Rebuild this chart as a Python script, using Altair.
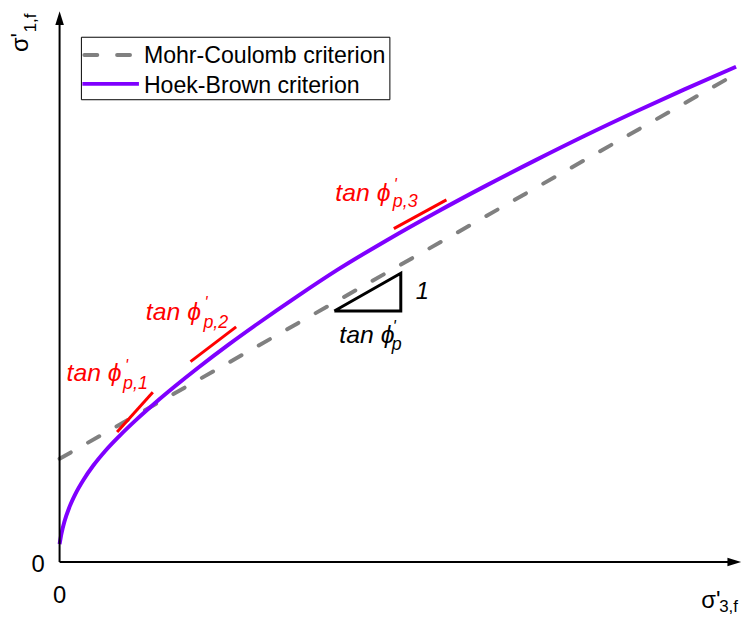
import altair as alt
import pandas as pd

FONT = "Liberation Sans"

# ---------------- data (σ'3,f , σ'1,f in arbitrary stress units) ----------------
hb_s3 = [0, 2, 5, 10, 16, 24, 34, 46, 60, 78, 96, 116, 140, 170, 200, 240, 280,
         330, 380, 430, 480, 530, 580, 630, 682]
hb_s1 = [18, 29, 41, 55.5, 68.7, 82.7, 97.2, 111.9, 126.7, 144.0, 160.0, 176.8, 196.0,
         218.8, 240.4, 268.0, 294.4, 324.4, 352.6, 379.4, 405.1, 429.9, 453.6, 476.4, 499.3]

mc_s3 = [0, 682]
mc_s1 = [104, 492]

# tangent segments (slope tan φ'p,i)
tan_id = ["1", "1", "2", "2", "3", "3"]
tan_s3 = [58, 94, 132, 178, 337, 390]
tan_s1 = [131, 171, 202, 237, 336, 365]

# slope triangle
tri_s3 = [277, 344, 344, 277]
tri_s1 = [253, 291, 253, 253]

legend_labels = ["Mohr-Coulomb criterion", "Hoek-Brown criterion"]

X_MAX = 688
Y_MAX = 556

xs = alt.Scale(domain=[0, X_MAX], nice=False, zero=False)
ys = alt.Scale(domain=[0, Y_MAX], nice=False, zero=False)


def X(f="x"):
    return alt.X(f"{f}:Q", scale=xs, axis=None)


def Y(f="y"):
    return alt.Y(f"{f}:Q", scale=ys, axis=None)


# ---------------- curves ----------------
mc_df = pd.DataFrame({"x": mc_s3, "y": mc_s1})
hb_df = pd.DataFrame({"x": hb_s3, "y": hb_s1})
tan_df = pd.DataFrame({"x": tan_s3, "y": tan_s1, "id": tan_id})
tri_df = pd.DataFrame({"x": tri_s3, "y": tri_s1, "o": list(range(len(tri_s3)))})

mc = alt.Chart(mc_df).mark_line(color="#808080", strokeWidth=4, strokeDash=[13, 20],
                                strokeCap="round").encode(x=X(), y=Y())
hb = alt.Chart(hb_df).mark_line(color="#7F00FF", strokeWidth=4, interpolate="monotone").encode(
    x=X(), y=Y())
tang = alt.Chart(tan_df).mark_line(color="#FF0000", strokeWidth=3).encode(
    x=X(), y=Y(), detail="id:N")
tri = alt.Chart(tri_df).mark_line(color="black", strokeWidth=3, strokeJoin="miter").encode(
    x=X(), y=Y(), order="o:O")

# ---------------- axes with arrows ----------------
ax_df = pd.DataFrame({"x": [0, 0], "x2": [X_MAX - 8, 0], "y": [0, 0], "y2": [0, Y_MAX - 8]})
axes = alt.Chart(ax_df).mark_rule(color="black", strokeWidth=2).encode(
    x=X(), x2="x2:Q", y=Y(), y2="y2:Q")

arrow_up = alt.Chart(pd.DataFrame({"x": [0], "y": [Y_MAX - 9.5]})).mark_point(
    shape="M0,-1L0.5,0.6L-0.5,0.6Z", filled=True, color="black", opacity=1, size=300,
    strokeWidth=0).encode(x=X(), y=Y())
arrow_right = alt.Chart(pd.DataFrame({"x": [X_MAX - 9.5], "y": [0]})).mark_point(
    shape="M1,0L-0.6,-0.5L-0.6,0.5Z", filled=True, color="black", opacity=1, size=300,
    strokeWidth=0).encode(x=X(), y=Y())

# ---------------- legend ----------------
leg_box = alt.Chart(pd.DataFrame({"x": [22], "x2": [333], "y": [466], "y2": [529]})).mark_rect(
    fill="white", stroke="black", strokeWidth=1).encode(x=X(), x2="x2:Q", y=Y(), y2="y2:Q")
leg_mc = alt.Chart(pd.DataFrame({"x": [25, 78], "y": [511, 511]})).mark_line(
    color="#808080", strokeWidth=4, strokeDash=[13, 20], strokeCap="round").encode(x=X(), y=Y())
leg_hb = alt.Chart(pd.DataFrame({"x": [23, 80], "y": [482, 482]})).mark_line(
    color="#7F00FF", strokeWidth=4).encode(x=X(), y=Y())
leg_txt = alt.Chart(pd.DataFrame({"x": [85, 85], "y": [503, 473], "t": legend_labels})).mark_text(
    align="left", baseline="alphabetic", font=FONT, fontSize=23.3, color="black").encode(
    x=X(), y=Y(), text="t:N")

# ---------------- annotations ----------------
PHI = "\u03d5"
main_df = pd.DataFrame({
    "x": [7, 87, 278, 282],
    "y": [182, 244, 364, 221],
    "t": ["tan " + PHI] * 4,
    "c": ["#FF0000", "#FF0000", "#FF0000", "black"],
})
prime_df = pd.DataFrame({
    "x": [66, 146, 337, 336],
    "y": [193, 256, 375, 232],
    "t": ["'", "'", "'", "'"],
    "c": ["#FF0000", "#FF0000", "#FF0000", "black"],
})
sub_df = pd.DataFrame({
    "x": [64, 145, 336, 335],
    "y": [174, 236, 358, 214],
    "t": ["p,1", "p,2", "p,3", "p"],
    "c": ["#FF0000", "#FF0000", "#FF0000", "black"],
})
main_txt = alt.Chart(main_df).mark_text(align="left", baseline="alphabetic", font=FONT,
                                        fontSize=25, fontStyle="italic").encode(
    x=X(), y=Y(), text="t:N", color=alt.Color("c:N", scale=None))
prime_txt = alt.Chart(prime_df).mark_text(align="left", baseline="alphabetic", font=FONT,
                                          fontSize=16, fontStyle="italic").encode(
    x=X(), y=Y(), text="t:N", color=alt.Color("c:N", scale=None))
sub_txt = alt.Chart(sub_df).mark_text(align="left", baseline="alphabetic", font=FONT,
                                      fontSize=18, fontStyle="italic").encode(
    x=X(), y=Y(), text="t:N", color=alt.Color("c:N", scale=None))
one_txt = alt.Chart(pd.DataFrame({"x": [359], "y": [265], "t": ["1"]})).mark_text(
    align="left", baseline="alphabetic", font=FONT, fontSize=24, fontStyle="italic",
    color="black").encode(x=X(), y=Y(), text="t:N")

zero_y = alt.Chart(pd.DataFrame({"x": [-15], "y": [-10], "t": ["0"]})).mark_text(
    align="right", baseline="alphabetic", font=FONT, fontSize=24, color="black").encode(
    x=X(), y=Y(), text="t:N")
zero_x = alt.Chart(pd.DataFrame({"x": [0], "y": [-41], "t": ["0"]})).mark_text(
    align="center", baseline="alphabetic", font=FONT, fontSize=24, color="black").encode(
    x=X(), y=Y(), text="t:N")

ytitle = alt.Chart(pd.DataFrame({"x": [-32], "y": [514], "t": ["σ'"]})).mark_text(
    align="left", baseline="alphabetic", font=FONT, fontSize=24, angle=270, color="black").encode(
    x=X(), y=Y(), text="t:N")
ytitle_sub = alt.Chart(pd.DataFrame({"x": [-24], "y": [534], "t": ["1,f"]})).mark_text(
    align="left", baseline="alphabetic", font=FONT, fontSize=17, angle=270, color="black").encode(
    x=X(), y=Y(), text="t:N")
xtitle = alt.Chart(pd.DataFrame({"x": [647], "y": [-46], "t": ["σ'"]})).mark_text(
    align="left", baseline="alphabetic", font=FONT, fontSize=24, color="black").encode(
    x=X(), y=Y(), text="t:N")
xtitle_sub = alt.Chart(pd.DataFrame({"x": [665], "y": [-50], "t": ["3,f"]})).mark_text(
    align="left", baseline="alphabetic", font=FONT, fontSize=17, color="black").encode(
    x=X(), y=Y(), text="t:N")

chart = alt.layer(
    mc, hb, tang, tri, axes, arrow_up, arrow_right,
    leg_box, leg_mc, leg_hb, leg_txt,
    main_txt, prime_txt, sub_txt, one_txt,
    zero_y, zero_x, ytitle, ytitle_sub, xtitle, xtitle_sub,
).properties(
    width=X_MAX, height=Y_MAX,
    padding={"left": 52, "top": 0, "right": 0, "bottom": 51},
    autosize=alt.AutoSizeParams(type="none"),
).configure_view(stroke=None)

chart.save("out.html", embed_options={"renderer": "svg", "actions": False})
